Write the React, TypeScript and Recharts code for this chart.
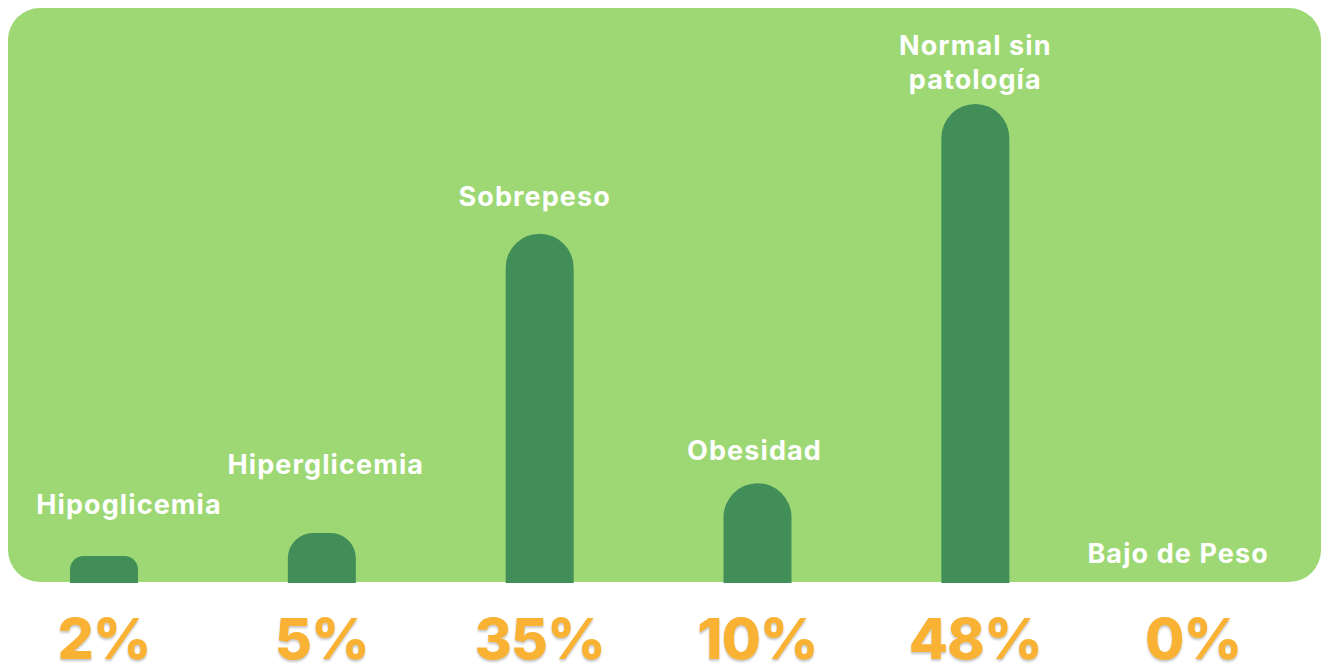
import React from "react";
import { BarChart, Bar, XAxis, YAxis, Rectangle } from "recharts";

const categories = ["Hipoglicemia", "Hiperglicemia", "Sobrepeso", "Obesidad", "Normal sin patología", "Bajo de Peso"];
const values = [2, 5, 35, 10, 48, 0];
const percentLabels = ["2%", "5%", "35%", "10%", "48%", "0%"];

// label layout nudges (styling only)
const labelDx = [25, 4, -5, -3, 0, -15];
const labelGap = [42, 59, 28, 23, 15, 20];
const labelLines: Record<string, string[]> = {
  "Normal sin patología": ["Normal sin", "patología"],
};

const data = categories.map((c, i) => ({ name: c, value: values[i], pct: percentLabels[i] }));

const FONT = "Inter, 'Open Sans', sans-serif";

const PctTick = (props: any) => {
  const { x, y, index } = props;
  return (
    <text
      x={x}
      y={y + 68}
      textAnchor="middle"
      fill="#F9B233"
      fontFamily={FONT}
      fontWeight={800}
      fontSize={57}
      letterSpacing={-1}
      style={{ filter: "drop-shadow(0px 2px 1px rgba(0,0,0,0.22))" }}
    >
      {percentLabels[index]}
    </text>
  );
};

const BarWithLabel = (props: any) => {
  const { x, y, width, height, index } = props;
  const name = categories[index];
  const lines = labelLines[name] || [name];
  const cx = x + width / 2 + labelDx[index];
  const top = values[index] > 0 ? y : y + height;
  const base = top - labelGap[index];
  const lh = 34;
  return (
    <g>
      {values[index] > 0 && (
        <Rectangle x={x} y={y} width={width} height={height} fill="#418E59" radius={[34, 34, 0, 0]} />
      )}
      <text textAnchor="middle" fill="#ffffff" fontFamily={FONT} fontWeight={700} fontSize={27} letterSpacing={1.1}>
        {lines.map((l, i) => (
          <tspan key={i} x={cx} y={base - (lines.length - 1 - i) * lh}>
            {l}
          </tspan>
        ))}
      </text>
    </g>
  );
};

export default function App() {
  return (
    <div style={{ position: "relative", width: 1321, height: 666, overflow: "hidden", background: "#ffffff" }}>
      <style>{`html,body{margin:0;padding:0;overflow:hidden;}`}</style>
      <div
        style={{
          position: "absolute",
          left: 8,
          top: 8,
          width: 1313,
          height: 574,
          background: "#9DD874",
          borderRadius: 32,
        }}
      />
      <div style={{ position: "absolute", left: -5, top: 0 }}>
        <BarChart width={1307} height={666} data={data} margin={{ top: 104, right: 0, bottom: 0, left: 0 }} barCategoryGap={0}>
          <XAxis dataKey="name" height={83} axisLine={false} tickLine={false} tick={<PctTick />} interval={0} />
          <YAxis hide domain={[0, 48]} />
          <Bar
            dataKey="value"
            fill="#418E59"
            barSize={68}
            minPointSize={27}
            shape={<BarWithLabel />}
            isAnimationActive={false}
          />
        </BarChart>
      </div>
    </div>
  );
}
